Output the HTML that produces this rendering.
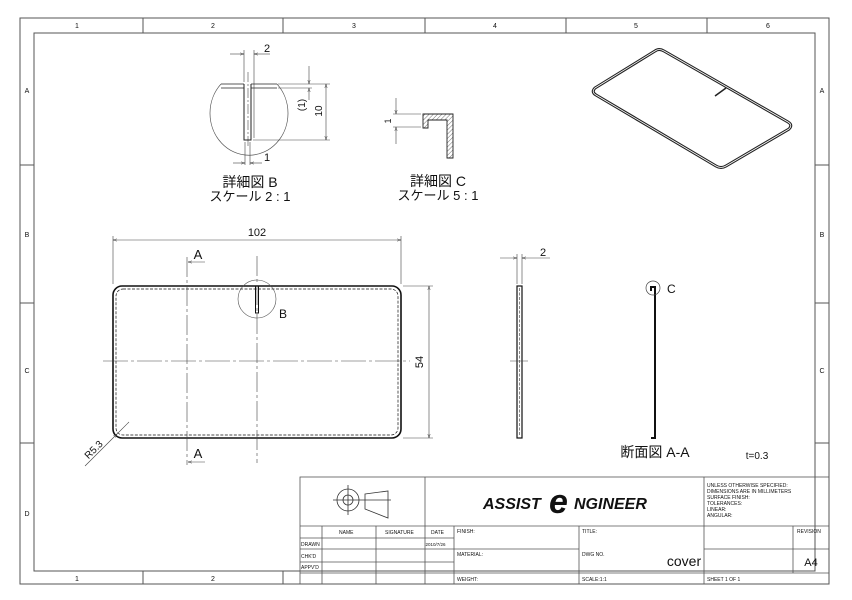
<!DOCTYPE html>
<html><head><meta charset="utf-8"><style>
html,body{margin:0;padding:0;background:#fff;}
svg{display:block;}
text{font-family:"Liberation Sans","Noto Sans CJK JP",sans-serif;fill:#111;}
</style></head><body>
<svg width="852" height="600" viewBox="0 0 852 600" xmlns="http://www.w3.org/2000/svg">
<defs>
<marker id="ar" viewBox="0 0 10 10" refX="10" refY="5" markerWidth="7" markerHeight="7" orient="auto-start-reverse"><path d="M0,2 L10,5 L0,8" fill="none" stroke="#333" stroke-width="1"/></marker>
<pattern id="hatch" width="3" height="3" patternUnits="userSpaceOnUse" patternTransform="rotate(45)"><line x1="0" y1="0" x2="0" y2="3" stroke="#333" stroke-width="0.7"/></pattern>
</defs>
<g fill="none" stroke="#555" stroke-width="1">
<rect x="20" y="18" width="809" height="566"/>
<rect x="34" y="33" width="781" height="538"/>
<path d="M143 18V33M283 18V33M425 18V33M566 18V33M707 18V33"/>
<path d="M143 571V584M283 571V584"/>
<path d="M20 165H34M20 303H34M20 443H34M815 165H829M815 303H829M815 443H829"/>
</g>
<g font-size="7" text-anchor="middle" fill="#333">
<text x="77" y="28">1</text><text x="213" y="28">2</text><text x="354" y="28">3</text><text x="495" y="28">4</text><text x="636" y="28">5</text><text x="768" y="28">6</text>
<text x="77" y="581">1</text><text x="213" y="581">2</text>
<text x="27" y="93">A</text><text x="27" y="237">B</text><text x="27" y="373">C</text><text x="27" y="516">D</text>
<text x="822" y="93">A</text><text x="822" y="237">B</text><text x="822" y="373">C</text>
</g>

<!-- main view -->
<g fill="none" stroke="#111">
<rect x="113" y="286" width="288" height="152" rx="9" stroke-width="1.6"/>
<rect x="116" y="289" width="282" height="146" rx="7" stroke-width="0.7" stroke-dasharray="3,1.5"/>
<path d="M255.5 286V313H258.5V286" stroke-width="1"/>
<circle cx="257" cy="299" r="19" stroke-width="0.6" stroke="#555"/>
<g stroke="#444" stroke-width="0.6">
<path d="M187 257V465" stroke-dasharray="20,3,3,3"/>
<path d="M257 256V463" stroke-dasharray="20,3,3,3"/>
<path d="M103 361H410" stroke-dasharray="25,3,3,3"/>
<path d="M113 284V236M401 284V236"/>
<line x1="113" y1="240" x2="401" y2="240" marker-start="url(#ar)" marker-end="url(#ar)"/>
<path d="M403 286H433M403 438H433"/>
<line x1="429" y1="286" x2="429" y2="438" marker-start="url(#ar)" marker-end="url(#ar)"/>
<line x1="205" y1="262" x2="188" y2="262" marker-end="url(#ar)"/>
<line x1="205" y1="462" x2="188" y2="462" marker-end="url(#ar)"/>
<line x1="85" y1="466" x2="117" y2="434" marker-end="url(#ar)"/>
<line x1="117" y1="434" x2="129" y2="422"/>
</g>
</g>
<text x="257" y="236" font-size="11" text-anchor="middle">102</text>
<text x="0" y="0" font-size="11" text-anchor="middle" transform="translate(423,362) rotate(-90)">54</text>
<text x="198" y="259" font-size="13" text-anchor="middle">A</text>
<text x="198" y="458" font-size="13" text-anchor="middle">A</text>
<text x="283" y="318" font-size="12" text-anchor="middle">B</text>
<text x="0" y="0" font-size="10" text-anchor="middle" transform="translate(96,452) rotate(-45)">R5.3</text>

<!-- side view -->
<g fill="none" stroke="#111">
<rect x="517" y="286" width="5" height="152" stroke-width="1.2"/>
<path d="M519.5 288V436" stroke-width="0.5" stroke-dasharray="3,1.5"/>
<g stroke="#444" stroke-width="0.6">
<path d="M517 284V254M522 284V254M510 361H528"/>
<line x1="500" y1="258" x2="517" y2="258" marker-end="url(#ar)"/>
<line x1="550" y1="258" x2="522" y2="258" marker-end="url(#ar)"/>
</g>
<path d="M651 291V287H655V438H651" stroke-width="2"/>
<circle cx="653" cy="288" r="7" stroke-width="0.7" stroke="#444"/>
</g>
<text x="543" y="256" font-size="11" text-anchor="middle">2</text>
<text x="667" y="293" font-size="12">C</text>
<text x="655" y="457" font-size="14" text-anchor="middle">断面図 A-A</text>
<text x="757" y="459" font-size="10" text-anchor="middle">t=0.3</text>

<!-- detail B -->
<g fill="none" stroke="#222">
<path d="M221 84 A39 42 0 1 0 277 84" stroke-width="0.7" stroke="#555"/>
<path d="M221 84H244M251 84H277M221 88H244M251 88H277" stroke-width="0.8"/>
<path d="M244 84V140H251V84" stroke-width="1"/>
<path d="M248 72V148" stroke-width="0.5" stroke-dasharray="10,2,2,2"/>
<g stroke="#444" stroke-width="0.6">
<path d="M244 82V50M254 138V50"/>
<line x1="230" y1="54" x2="244" y2="54" marker-end="url(#ar)"/>
<line x1="270" y1="54" x2="254" y2="54" marker-end="url(#ar)"/>
<path d="M278 84H330M253 140H330"/>
<line x1="326" y1="84" x2="326" y2="140" marker-start="url(#ar)" marker-end="url(#ar)"/>
<line x1="309" y1="66" x2="309" y2="84" marker-end="url(#ar)"/>
<line x1="309" y1="100" x2="309" y2="88" marker-end="url(#ar)"/>
<path d="M278 88H312"/>
<path d="M245 142V165M250 142V165"/>
<line x1="233" y1="163" x2="245" y2="163" marker-end="url(#ar)"/>
<line x1="262" y1="163" x2="250" y2="163" marker-end="url(#ar)"/>
</g>
</g>
<text x="267" y="52" font-size="11" text-anchor="middle">2</text>
<text x="0" y="0" font-size="10" text-anchor="middle" transform="translate(322,111) rotate(-90)">10</text>
<text x="0" y="0" font-size="10" text-anchor="middle" transform="translate(305,105) rotate(-90)">(1)</text>
<text x="267" y="161" font-size="11" text-anchor="middle">1</text>
<text x="250" y="187" font-size="14" text-anchor="middle">詳細図 B</text>
<text x="250" y="201" font-size="13" text-anchor="middle">スケール 2 : 1</text>

<!-- detail C -->
<g fill="none" stroke="#222" stroke-width="0.9">
<path d="M423 114H453V158H447V120H428V128H423Z" fill="url(#hatch)"/>
<g stroke="#444" stroke-width="0.6">
<path d="M393 114H421M393 127H421"/>
<line x1="396" y1="98" x2="396" y2="114" marker-end="url(#ar)"/>
<line x1="396" y1="144" x2="396" y2="127" marker-end="url(#ar)"/>
</g>
</g>
<text x="0" y="0" font-size="9" text-anchor="middle" transform="translate(391,121) rotate(-90)">1</text>
<text x="438" y="186" font-size="14" text-anchor="middle">詳細図 C</text>
<text x="438" y="200" font-size="13" text-anchor="middle">スケール 5 : 1</text>

<!-- iso view -->
<g fill="none" stroke="#222">
<path d="M655 51 L595 88 Q591 92 596 95 L716 166 Q721 169 726 166 L789 129 Q793 125 788 122 L664 51 Q659 48 655 51Z" stroke-width="3"/>
<path d="M655 51 L595 88 Q591 92 596 95 L716 166 Q721 169 726 166 L789 129 Q793 125 788 122 L664 51 Q659 48 655 51Z" stroke-width="0.8" stroke="#fff"/>
<path d="M726 88 L715 96" stroke-width="1.5"/>
</g>

<!-- title block -->
<g fill="none" stroke="#555" stroke-width="0.8">
<rect x="300" y="477" width="529" height="107"/>
<path d="M300 526H829M425 477V584M704 477V526"/>
<path d="M300 538H454M300 549H579M300 562H454M300 573H829M704 549H829"/>
<path d="M322 526V584M376 526V584M454 526V584M579 526V584M704 526V584M793 526V573M704 573V584"/>
</g>
<g fill="none" stroke="#333" stroke-width="0.8">
<circle cx="348" cy="500" r="11"/><circle cx="348" cy="500" r="5"/>
<path d="M333 500H391M348 485V515"/>
<path d="M365 494L388 491V518L365 509Z"/>
</g>
<text x="483" y="509" font-size="16" font-weight="bold" font-style="italic" fill="#222">ASSIST</text>
<text x="549" y="513" font-size="34" font-style="italic" font-weight="bold" font-family="Liberation Serif,serif" fill="#222">e</text>
<text x="574" y="509" font-size="16" font-weight="bold" font-style="italic" fill="#222">NGINEER</text>
<g font-size="5" fill="#333">
<text x="707" y="487">UNLESS OTHERWISE SPECIFIED:</text>
<text x="707" y="493">DIMENSIONS ARE IN MILLIMETERS</text>
<text x="707" y="499">SURFACE FINISH:</text>
<text x="707" y="505">TOLERANCES:</text>
<text x="707" y="511">LINEAR:</text>
<text x="707" y="517">ANGULAR:</text>
<text x="339" y="534">NAME</text>
<text x="385" y="534">SIGNATURE</text>
<text x="431" y="534">DATE</text>
<text x="301" y="546">DRAWN</text>
<text x="425.5" y="546" font-size="4.5">2010/7/26</text>
<text x="301" y="558">CHK'D</text>
<text x="301" y="569">APPV'D</text>
<text x="457" y="533">FINISH:</text>
<text x="457" y="556">MATERIAL:</text>
<text x="457" y="581">WEIGHT:</text>
<text x="582" y="533">TITLE:</text>
<text x="582" y="556">DWG NO.</text>
<text x="582" y="581">SCALE:1:1</text>
<text x="707" y="581">SHEET 1 OF 1</text>
<text x="797" y="533">REVISION</text>
</g>
<text x="684" y="566" font-size="14" text-anchor="middle" fill="#222">cover</text>
<text x="811" y="566" font-size="11" text-anchor="middle" fill="#222">A4</text>
</svg>
</body></html>
